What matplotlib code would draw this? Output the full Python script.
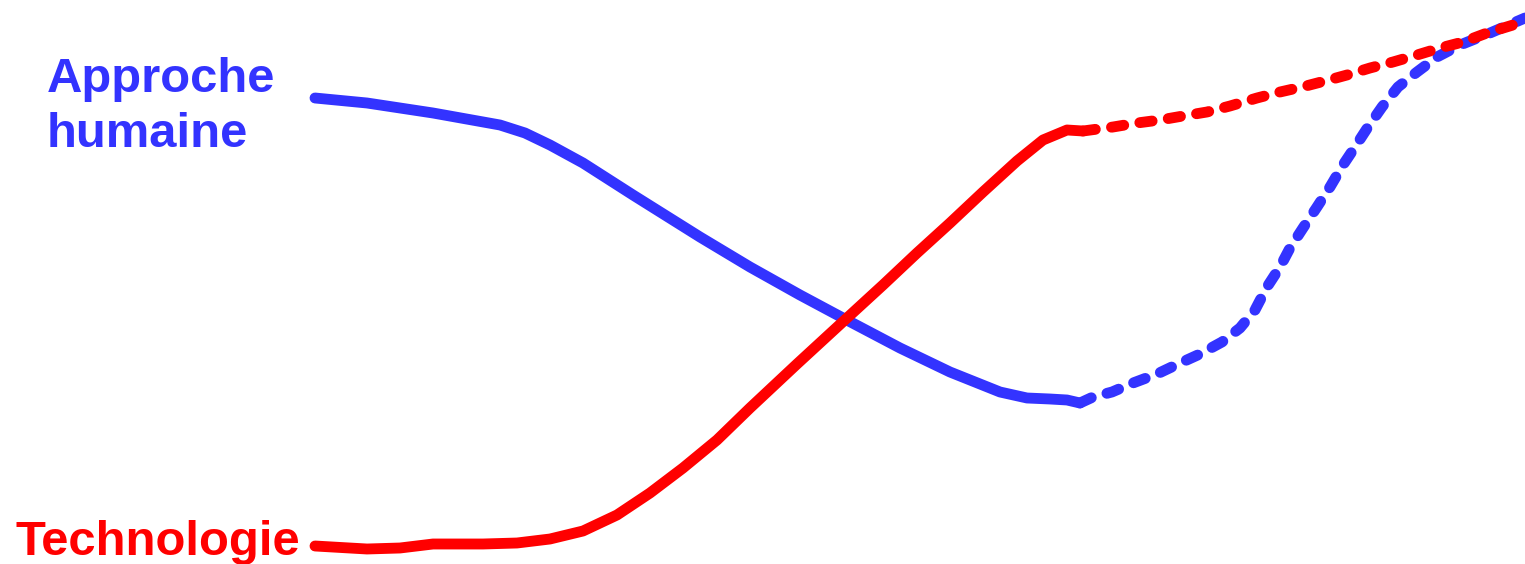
import matplotlib
matplotlib.use('Agg')
from matplotlib import pyplot as plt

plt.rcParams['font.family'] = ['Liberation Sans', 'DejaVu Sans']

# blue curve (approche humaine): solid part, then dashed part
blue_x = [315, 367, 433, 500, 525, 550, 583, 633, 700, 750, 800, 843, 900, 950, 1000, 1027, 1050, 1067, 1080]
blue_y = [98, 103, 113, 125, 133, 145, 163, 195, 237, 267, 295, 318, 348, 372, 392, 398, 399, 400, 403]
blue_dx = [1080, 1093, 1112, 1133, 1157, 1178, 1200, 1222, 1240, 1255, 1267, 1280, 1290, 1303, 1317,
           1330, 1343, 1355, 1368, 1382, 1398, 1417, 1437, 1460, 1490, 1525]
blue_dy = [403, 397, 392, 383, 374, 364, 354, 342, 328, 310, 287, 267, 248, 228, 207,
           187, 165, 147, 127, 107, 87, 72, 57, 45, 33, 18]

# red curve (technologie): solid part, then dashed part
red_x = [315, 367, 400, 433, 483, 517, 550, 583, 617, 650, 683, 717, 750, 797, 847, 883, 917, 950,
         983, 1017, 1043, 1067, 1083]
red_y = [546, 549, 548, 544, 544, 543, 539, 531, 515, 493, 468, 440, 408, 364, 318, 285, 253, 223,
         192, 161, 140, 130, 131]
red_dx = [1083, 1113, 1137, 1160, 1183, 1207, 1230, 1257, 1280, 1302, 1325, 1347, 1370, 1393, 1417,
          1440, 1463, 1487, 1513, 1525]
red_dy = [131, 127, 123, 120, 116, 112, 106, 98, 92, 87, 81, 75, 68, 62, 55,
          48, 42, 33, 25, 18]

blue = '#3333ff'
red = '#ff0000'

fig = plt.figure(figsize=(15.25, 5.64), dpi=100)
ax = fig.add_axes([0, 0, 1, 1])
ax.set_xlim(0, 1525)
ax.set_ylim(564, 0)
ax.axis('off')

lw = 7.8
ax.plot(blue_x, blue_y, color=blue, lw=lw, solid_capstyle='round', solid_joinstyle='round')
ax.plot(blue_dx, blue_dy, color=blue, lw=lw, dashes=(1.15, 1.5), dash_capstyle='round',
        dash_joinstyle='round')
ax.plot(red_x, red_y, color=red, lw=lw, solid_capstyle='round', solid_joinstyle='round')
ax.plot(red_dx, red_dy, color=red, lw=lw, dashes=(1.15, 1.5), dash_capstyle='round',
        dash_joinstyle='round')

ax.text(47, 92, 'Approche', color=blue, fontsize=35.3, fontweight='bold', va='baseline')
ax.text(47, 147, 'humaine', color=blue, fontsize=35.3, fontweight='bold', va='baseline')
ax.text(15, 555, 'Technologie', color=red, fontsize=35.3, fontweight='bold', va='baseline')

fig.savefig('out.png', dpi=100)
